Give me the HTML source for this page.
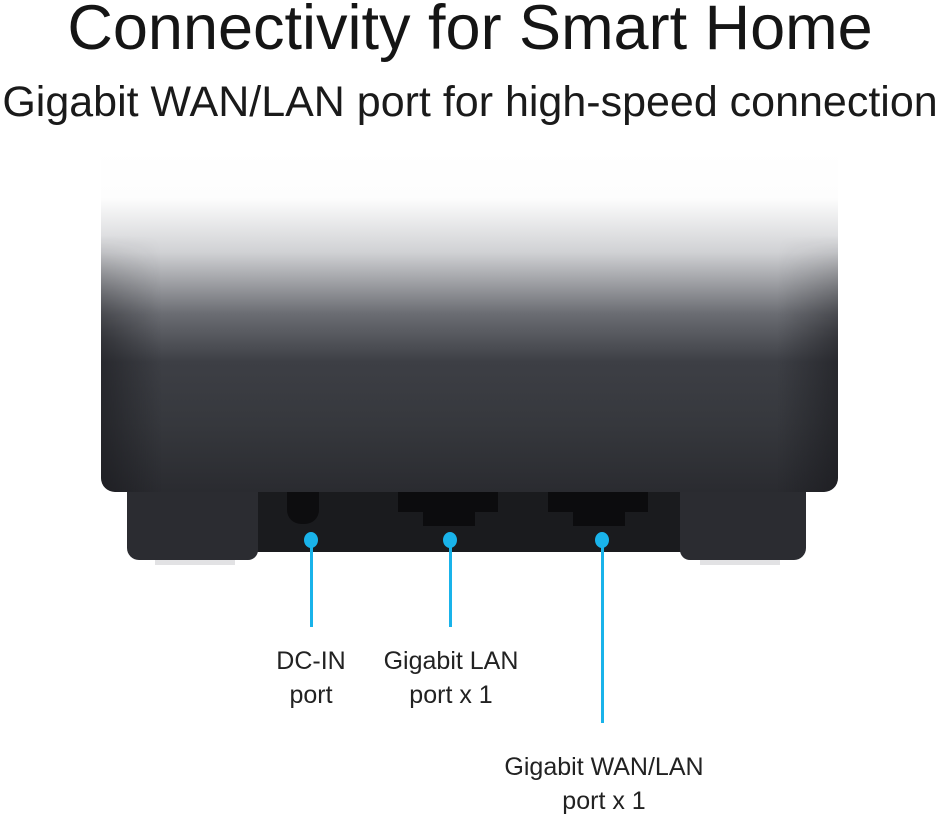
<!DOCTYPE html>
<html><head><style>
body{margin:0;width:940px;height:817px;background:#fff;position:relative;overflow:hidden;font-family:"Liberation Sans",sans-serif;color:#111}
.t{position:absolute;left:0;width:940px;text-align:center;white-space:nowrap}
.a{position:absolute}
.lbl{position:absolute;text-align:center;font-size:25px;line-height:34px;color:#222;transform:translateX(-50%);white-space:nowrap}
.dot{position:absolute;width:14px;height:16px;border-radius:50%;background:#19b3ea}
.ln{position:absolute;width:3px;background:#19b3ea}
</style></head><body>
<div class="t" style="top:-8px;font-size:63px;color:#151515">Connectivity for Smart Home</div>
<div class="t" style="top:78px;font-size:43px;color:#1a1a1a">Gigabit WAN/LAN port for high-speed connection</div>
<!-- body -->
<div class="a" style="left:101px;top:150px;width:737px;height:342px;border-radius:0 0 14px 14px;background:linear-gradient(180deg,#fff 0%,#fdfdfd 14%,#d0d1d4 30%,#6a6c72 48%,#3d3f45 62%,#36383d 80%,#2a2b30 100%)"></div>
<div class="a" style="left:101px;top:150px;width:60px;height:342px;background:linear-gradient(90deg,rgba(20,20,24,.5),rgba(0,0,0,0));border-radius:0 0 0 14px;-webkit-mask:linear-gradient(180deg,transparent 25%,#000 55%)"></div>
<div class="a" style="left:778px;top:150px;width:60px;height:342px;background:linear-gradient(270deg,rgba(20,20,24,.5),rgba(0,0,0,0));border-radius:0 0 14px 0;-webkit-mask:linear-gradient(180deg,transparent 25%,#000 55%)"></div>
<!-- recess -->
<div class="a" style="left:250px;top:492px;width:440px;height:60px;background:#1a1b1e"></div>
<!-- feet -->
<div class="a" style="left:127px;top:492px;width:131px;height:68px;background:#2b2c31;border-radius:0 0 10px 12px"></div>
<div class="a" style="left:155px;top:560px;width:80px;height:5px;background:#e2e2e4"></div>
<div class="a" style="left:680px;top:492px;width:126px;height:68px;background:#2b2c31;border-radius:0 0 12px 10px"></div>
<div class="a" style="left:700px;top:560px;width:80px;height:5px;background:#e2e2e4"></div>
<!-- ports -->
<div class="a" style="left:287px;top:492px;width:32px;height:32px;background:#0d0d0f;border-radius:0 0 14px 14px"></div>
<div class="a" style="left:398px;top:492px;width:100px;height:20px;background:#0c0c0e"></div>
<div class="a" style="left:423px;top:510px;width:52px;height:16px;background:#0c0c0e"></div>
<div class="a" style="left:548px;top:492px;width:100px;height:20px;background:#0c0c0e"></div>
<div class="a" style="left:573px;top:510px;width:52px;height:16px;background:#0c0c0e"></div>
<!-- dots & lines -->
<div class="dot" style="left:304px;top:532px"></div><div class="ln" style="left:310px;top:545px;height:82px"></div>
<div class="dot" style="left:443px;top:532px"></div><div class="ln" style="left:449px;top:545px;height:82px"></div>
<div class="dot" style="left:595px;top:532px"></div><div class="ln" style="left:601px;top:545px;height:178px"></div>
<div class="lbl" style="left:311px;top:644px">DC-IN<br>port</div>
<div class="lbl" style="left:451px;top:644px">Gigabit LAN<br>port x 1</div>
<div class="lbl" style="left:604px;top:750px">Gigabit WAN/LAN<br>port x 1</div>
</body></html>
